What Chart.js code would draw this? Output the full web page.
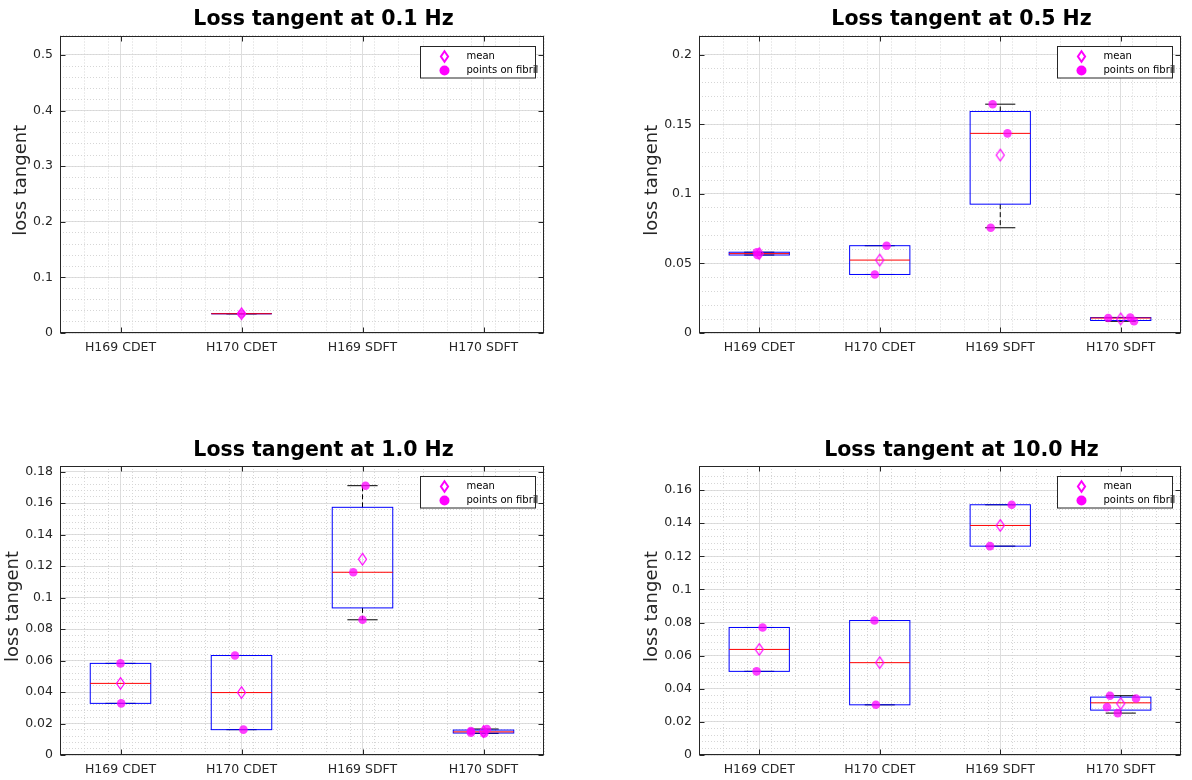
<!DOCTYPE html>
<html>
<head>
<meta charset="utf-8">
<title>Loss tangent</title>
<script src="https://cdn.jsdelivr.net/npm/chart.js@4.4.1/dist/chart.umd.min.js"></script>
<style>
  html, body { margin: 0; padding: 0; background: #fff; }
  #wrap { position: relative; width: 1192px; height: 780px; overflow: hidden; }
  canvas { position: absolute; }
</style>
</head>
<body>
<div id="wrap">
  <canvas id="c0" width="596" height="390" style="left:0;top:0"></canvas>
  <canvas id="c1" width="596" height="390" style="left:596px;top:0"></canvas>
  <canvas id="c2" width="596" height="390" style="left:0;top:390px"></canvas>
  <canvas id="c3" width="596" height="390" style="left:596px;top:390px"></canvas>
</div>
<script>
// groups on the x axis
const categories = ['H169 CDET', 'H170 CDET', 'H169 SDFT', 'H170 SDFT'];
const freqLabels = ['0.1', '0.5', '1.0', '10.0'];

// loss tangent of every point measured on a fibril, one list per group
const tan01  = [[], [0.0347], [], []];
const tan05  = [[0.0581, 0.0561], [0.0628, 0.0421], [0.1646, 0.1436, 0.0757], [0.01075, 0.0112, 0.0084]];
const tan10  = [[0.0582, 0.0328], [0.0632, 0.0161], [0.1711, 0.1161, 0.0859], [0.0152, 0.0142, 0.0137, 0.0165]];
const tan100 = [[0.077, 0.0505], [0.0812, 0.0303], [0.1511, 0.1261], [0.0358, 0.0341, 0.0289, 0.0253]];

// horizontal jitter of the points (in group units)
const jit01  = [[], [0], [], []];
const jit05  = [[-0.02, -0.015], [0.057, -0.041], [-0.063, 0.06, -0.079], [-0.104, 0.079, 0.11]];
const jit10  = [[0, 0.006], [-0.054, 0.016], [0.025, -0.076, 0], [-0.104, -0.104, 0.006, 0.028]];
const jit100 = [[0.028, -0.022], [-0.044, -0.032], [0.095, -0.085], [-0.089, 0.127, -0.114, -0.025]];

// y axis ticks
const yTicks01  = [0, 0.1, 0.2, 0.3, 0.4, 0.5];
const yTicks05  = [0, 0.05, 0.1, 0.15, 0.2];
const yTicks10  = [0, 0.02, 0.04, 0.06, 0.08, 0.1, 0.12, 0.14, 0.16, 0.18];
const yTicks100 = [0, 0.02, 0.04, 0.06, 0.08, 0.1, 0.12, 0.14, 0.16];
const yTops = [0.535, 0.214, 0.1836, 0.1745];
const yMinorSteps = [0.02, 0.01, 0.004, 0.004];

const FONT = '"DejaVu Sans", "Liberation Sans", sans-serif';
const AXIS_COLOR = '#262626';

// plot boxes, canvas-local pixels
const panels = [
  { id: 'c0', L: 60,  R: 544, T: 35.5, B: 333, vals: tan01,  jit: jit01,  ticks: yTicks01 },
  { id: 'c1', L: 103, R: 585, T: 35.5, B: 333, vals: tan05,  jit: jit05,  ticks: yTicks05 },
  { id: 'c2', L: 60,  R: 544, T: 76,   B: 365, vals: tan10,  jit: jit10,  ticks: yTicks10 },
  { id: 'c3', L: 103, R: 585, T: 76,   B: 365, vals: tan100, jit: jit100, ticks: yTicks100 }
];

// percentile the way matlab's prctile does it
function prctile(s, p) {
  const n = s.length;
  if (n === 1) return s[0];
  const r = n * p + 0.5;
  if (r <= 1) return s[0];
  if (r >= n) return s[n - 1];
  const i = Math.floor(r);
  return s[i - 1] + (r - i) * (s[i] - s[i - 1]);
}

function boxStats(vals) {
  if (!vals.length) return null;
  const s = [...vals].sort((a, b) => a - b);
  const q1 = prctile(s, 0.25), med = prctile(s, 0.5), q3 = prctile(s, 0.75);
  const iqr = q3 - q1;
  const lo = s.find(v => v >= q1 - 1.5 * iqr);
  const hi = [...s].reverse().find(v => v <= q3 + 1.5 * iqr);
  const mean = s.reduce((a, b) => a + b, 0) / s.length;
  return { q1, med, q3, lo, hi, mean };
}

// open magenta diamond used for the mean
function diamond(hw, hh, lw) {
  const c = document.createElement('canvas');
  c.width = 2 * Math.ceil(hw + lw) + 1;
  c.height = 2 * Math.ceil(hh + lw) + 1;
  const g = c.getContext('2d');
  const mx = c.width / 2, my = c.height / 2;
  g.strokeStyle = '#ff00ff';
  g.lineWidth = lw;
  g.beginPath();
  g.moveTo(mx, my - hh); g.lineTo(mx + hw, my); g.lineTo(mx, my + hh); g.lineTo(mx - hw, my);
  g.closePath();
  g.stroke();
  return c;
}
const meanMarker = diamond(4, 5.8, 1.2);
const legendDiamond = diamond(3.6, 5.2, 2);

function line(ctx, x1, y1, x2, y2) {
  ctx.beginPath(); ctx.moveTo(x1, y1); ctx.lineTo(x2, y2); ctx.stroke();
}

// boxes, medians and whiskers under the points
const boxPlot = {
  id: 'boxPlot',
  beforeDatasetsDraw(chart, args, opts) {
    const { ctx, scales: { x, y } } = chart;
    opts.stats.forEach((st, i) => {
      if (!st) return;
      const cx = x.getPixelForValue(i + 1);
      const half = x.getPixelForValue(i + 1.25) - cx;
      const cap = half / 2;
      const py = v => y.getPixelForValue(v);
      ctx.save();
      ctx.lineWidth = 1;
      ctx.strokeStyle = '#000';
      ctx.setLineDash([5, 3]);
      if (st.hi > st.q3) line(ctx, cx, py(st.q3), cx, py(st.hi));
      if (st.lo < st.q1) line(ctx, cx, py(st.q1), cx, py(st.lo));
      ctx.setLineDash([]);
      line(ctx, cx - cap, py(st.hi), cx + cap, py(st.hi));
      line(ctx, cx - cap, py(st.lo), cx + cap, py(st.lo));
      ctx.strokeStyle = '#0000ff';
      ctx.strokeRect(cx - half, py(st.q3), 2 * half, py(st.q1) - py(st.q3));
      ctx.strokeStyle = '#ff0000';
      line(ctx, cx - half, py(st.med), cx + half, py(st.med));
      ctx.restore();
    });
  }
};

// axes box, inward ticks, legend, title and y label
const decor = {
  id: 'decor',
  afterDraw(chart, args, opts) {
    const { ctx, chartArea: a, scales: { x, y } } = chart;
    const L = Math.round(a.left) + 0.5, R = Math.round(a.right) - 0.5;
    const T = Math.round(a.top) + 0.5, B = Math.round(a.bottom) - 0.5;
    ctx.save();
    ctx.strokeStyle = AXIS_COLOR;
    ctx.lineWidth = 1;
    ctx.strokeRect(L, T, R - L, B - T);
    y.ticks.forEach(t => {
      const py = Math.round(y.getPixelForValue(t.value)) + 0.5;
      line(ctx, L, py, L + 5, py);
      line(ctx, R - 5, py, R, py);
    });
    x.ticks.forEach(t => {
      const px = Math.round(x.getPixelForValue(t.value)) + 0.5;
      line(ctx, px, B, px, B - 5);
      line(ctx, px, T, px, T + 5);
    });

    // legend
    const lx = Math.round(a.right - 124) + 0.5, ly = Math.round(a.top + 10) + 0.5;
    ctx.fillStyle = '#fff';
    ctx.fillRect(lx, ly, 115, 31.5);
    ctx.strokeRect(lx, ly, 115, 31.5);
    ctx.drawImage(legendDiamond, Math.round(lx + 24 - legendDiamond.width / 2), Math.round(ly + 10 - legendDiamond.height / 2));
    ctx.fillStyle = '#ff00ff';
    ctx.beginPath();
    ctx.arc(lx + 24, ly + 24, 5, 0, Math.PI * 2);
    ctx.fill();
    ctx.fillStyle = '#000';
    ctx.font = '10px ' + FONT;
    ctx.textAlign = 'left';
    ctx.textBaseline = 'middle';
    ctx.fillText('mean', lx + 46, ly + 10);
    ctx.fillText('points on fibril', lx + 46, ly + 24);

    // title
    ctx.font = 'bold 20.5px ' + FONT;
    ctx.textAlign = 'center';
    ctx.fillText(opts.title, (a.left + a.right) / 2 + 21.5, a.top - 15.5);

    // y label, left of the widest tick label
    ctx.font = '12.5px ' + FONT;
    const tw = Math.max(...y.ticks.map(t => ctx.measureText(t.label).width));
    ctx.font = '18px ' + FONT;
    ctx.fillStyle = AXIS_COLOR;
    ctx.translate(a.left - 7 - tw - 3 - 9, (a.top + a.bottom) / 2 - 4);
    ctx.rotate(-Math.PI / 2);
    ctx.fillText('loss tangent', 0, 0);
    ctx.restore();
  }
};

panels.forEach((p, k) => {
  const canvas = document.getElementById(p.id);
  const stats = p.vals.map(boxStats);

  const points = [];
  p.vals.forEach((vs, i) => vs.forEach((v, j) => points.push({ x: i + 1 + p.jit[i][j], y: v })));
  const means = [];
  stats.forEach((st, i) => { if (st) means.push({ x: i + 1, y: st.mean }); });

  const tickFont = { family: FONT, size: 12.5 };

  new Chart(canvas.getContext('2d'), {
    type: 'scatter',
    data: {
      datasets: [
        {
          label: 'mean',
          data: means,
          pointStyle: meanMarker,
          pointRadius: 6,
          order: 0
        },
        {
          label: 'points on fibril',
          data: points,
          pointRadius: 4.3,
          pointBorderWidth: 0,
          pointBackgroundColor: 'rgba(255, 0, 255, 0.75)',
          order: 1
        }
      ]
    },
    options: {
      responsive: false,
      animation: false,
      events: [],
      layout: { padding: { top: p.T, right: canvas.width - p.R, left: 0, bottom: 0 } },
      plugins: {
        legend: { display: false },
        tooltip: { enabled: false },
        title: { display: false },
        boxPlot: { stats },
        decor: { title: 'Loss tangent at ' + freqLabels[k] + ' Hz' }
      },
      scales: {
        x: {
          type: 'linear',
          position: 'bottom',
          min: 0.5,
          max: 4.5,
          afterBuildTicks: s => { s.ticks = categories.map((c, i) => ({ value: i + 1 })); },
          afterFit: s => { s.height = canvas.height - p.B; },
          ticks: {
            autoSkip: false,
            maxRotation: 0,
            padding: 7,
            color: AXIS_COLOR,
            font: tickFont,
            callback: v => categories[v - 1]
          },
          grid: { color: '#dedede', lineWidth: 1, drawTicks: false },
          border: { display: false }
        },
        y: {
          type: 'linear',
          position: 'left',
          min: 0,
          max: yTops[k],
          afterBuildTicks: s => { s.ticks = p.ticks.map(v => ({ value: v })); },
          afterFit: s => { s.width = p.L; },
          ticks: {
            padding: 7,
            color: AXIS_COLOR,
            font: tickFont,
            callback: v => String(v)
          },
          grid: { color: '#dedede', lineWidth: 1, drawTicks: false },
          border: { display: false }
        },
        // dotted minor grid
        xm: {
          type: 'linear',
          position: 'bottom',
          min: 0.5,
          max: 4.5,
          ticks: { display: false, stepSize: 0.2 },
          afterFit: s => { s.height = 0; },
          grid: { color: '#d6d6d6', lineWidth: 1, drawTicks: false, z: -1 },
          border: { display: false, dash: [1, 2] }
        },
        ym: {
          type: 'linear',
          position: 'left',
          min: 0,
          max: yTops[k],
          ticks: { display: false, stepSize: yMinorSteps[k] },
          afterFit: s => { s.width = 0; },
          grid: { color: '#d6d6d6', lineWidth: 1, drawTicks: false, z: -1 },
          border: { display: false, dash: [1, 2] }
        }
      }
    },
    plugins: [boxPlot, decor]
  });
});
</script>
</body>
</html>
